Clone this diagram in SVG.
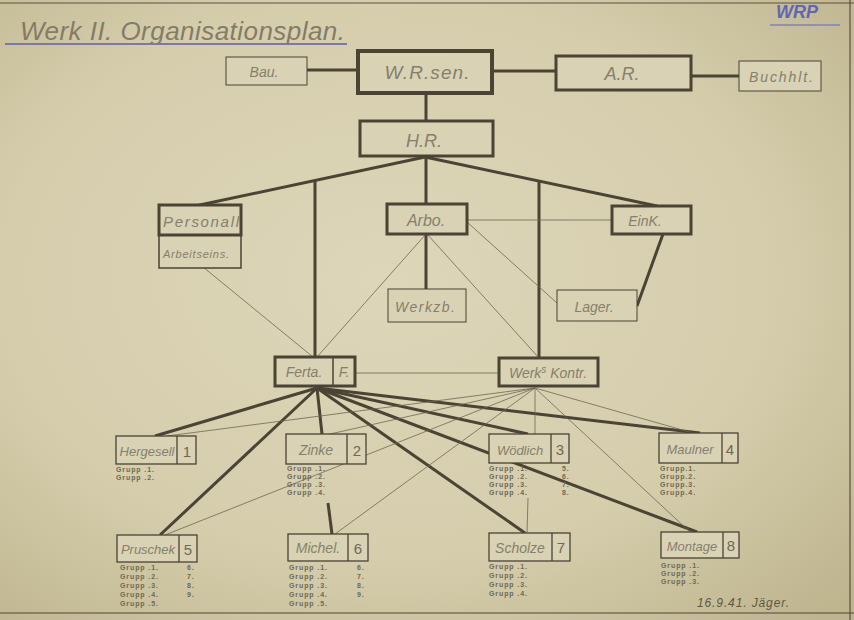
<svg xmlns="http://www.w3.org/2000/svg" width="854" height="620" viewBox="0 0 854 620">
<defs>
<radialGradient id="paper" cx="0.45" cy="0.45" r="0.75">
<stop offset="0" stop-color="#ddd6b9"/>
<stop offset="0.6" stop-color="#d5cdac"/>
<stop offset="1" stop-color="#beb48e"/>
</radialGradient>
<style>
.t{font-family:"Liberation Sans","DejaVu Sans",sans-serif;font-style:italic;fill:#85806b;text-anchor:middle}
.n{font-family:"Liberation Sans","DejaVu Sans",sans-serif;fill:#6f6955;text-anchor:middle;font-size:15px}
.g{font-family:"Liberation Sans","DejaVu Sans",sans-serif;fill:#6f6955;font-size:7px;font-weight:bold;letter-spacing:0.9px}
.bx{fill:#d9d2b5;stroke:#4b4333}
.k{stroke:#4b4333;stroke-width:3;fill:none}
.th{stroke:#6f6753;stroke-width:0.8;fill:none}
</style>
</defs>
<rect x="0" y="0" width="854" height="620" fill="url(#paper)"/>
<line x1="0" y1="3" x2="854" y2="3" stroke="#5a5240" stroke-width="1"/>
<line x1="850" y1="0" x2="850" y2="620" stroke="#5a5240" stroke-width="1.2"/>
<line x1="0" y1="613" x2="854" y2="613" stroke="#4e4736" stroke-width="1.2"/>

<text x="20" y="40" font-family="Liberation Sans, DejaVu Sans, sans-serif" font-style="italic" font-size="26" fill="#847c66" textLength="325" lengthAdjust="spacing">Werk II. Organisationsplan.</text>
<line x1="5" y1="44" x2="347" y2="44" stroke="#7d78a8" stroke-width="1.8"/>
<text x="776" y="18" font-family="Liberation Sans, DejaVu Sans, sans-serif" font-style="italic" font-weight="bold" font-size="18" fill="#6266b0">WRP</text>
<line x1="770" y1="25" x2="840" y2="25" stroke="#8480b8" stroke-width="1.5"/>

<g id="connectors">
<line class="k" x1="307" y1="70" x2="358" y2="70"/>
<line class="k" x1="492" y1="71" x2="556" y2="71"/>
<line class="k" x1="691" y1="76" x2="739" y2="76"/>
<line class="k" x1="426" y1="93" x2="426" y2="121"/>
<line class="k" x1="425" y1="157" x2="195" y2="206"/>
<line class="k" x1="425" y1="157" x2="657" y2="206"/>
<line class="k" x1="426" y1="157" x2="426" y2="204"/>
<line class="k" x1="315" y1="181" x2="315" y2="357"/>
<line class="k" x1="539" y1="181" x2="539" y2="358"/>
<line class="k" x1="426" y1="234" x2="426" y2="289"/>
<line class="k" x1="663" y1="234" x2="637" y2="306"/>
<line class="th" x1="467" y1="220" x2="612" y2="220"/>
<line class="th" x1="467" y1="222" x2="557" y2="303"/>
<line class="th" x1="426" y1="234" x2="317" y2="357"/>
<line class="th" x1="427" y1="234" x2="539" y2="358"/>
<line class="th" x1="203" y1="267" x2="313" y2="357"/>
<line class="th" x1="355" y1="373" x2="499" y2="373"/>
<line class="k" x1="317" y1="388" x2="155" y2="436"/>
<line class="k" x1="317" y1="388" x2="160" y2="535"/>
<line class="k" x1="317" y1="388" x2="322" y2="434"/>
<line class="k" x1="317" y1="388" x2="528" y2="434"/>
<line class="k" x1="317" y1="388" x2="700" y2="433"/>
<line class="k" x1="317" y1="388" x2="697" y2="532"/>
<line class="k" x1="317" y1="388" x2="525" y2="533"/>
<line class="th" x1="535" y1="388" x2="167" y2="436"/>
<line class="th" x1="535" y1="388" x2="330" y2="434"/>
<line class="th" x1="535" y1="388" x2="165" y2="535"/>
<line class="th" x1="535" y1="388" x2="335" y2="534"/>
<line class="th" x1="535" y1="388" x2="535" y2="434"/>
<line class="th" x1="535" y1="388" x2="693" y2="433"/>
<line class="th" x1="535" y1="388" x2="690" y2="532"/>
<line class="th" x1="528" y1="498" x2="527" y2="533"/>
<line class="k" x1="328" y1="503" x2="332" y2="534"/>
</g>

<g id="bau"><rect class="bx" x="226" y="57" width="81" height="28" stroke-width="1"/><text class="t" x="264" y="77" font-size="14">Bau.</text></g>
<g id="wrsen"><rect class="bx" x="358" y="51" width="134" height="42" stroke-width="4"/><text class="t" x="427" y="79" font-size="19" textLength="85" lengthAdjust="spacing">W.R.sen.</text></g>
<g id="ar"><rect class="bx" x="556" y="56" width="135" height="34" stroke-width="3"/><text class="t" x="622" y="80" font-size="18">A.R.</text></g>
<g id="buchhlt"><rect class="bx" x="739" y="61" width="82" height="30" stroke-width="1"/><text class="t" x="781" y="82" font-size="14" textLength="64" lengthAdjust="spacing">Buchhlt.</text></g>
<g id="hr"><rect class="bx" x="360" y="121" width="133" height="35" stroke-width="3"/><text class="t" x="424" y="147" font-size="18">H.R.</text></g>
<g id="personal"><rect class="bx" x="159" y="235" width="82" height="33" stroke-width="1.5"/><rect class="bx" x="159" y="205" width="82" height="30" stroke-width="3"/><text class="t" x="201" y="227" font-size="15" textLength="76" lengthAdjust="spacing">Personall</text><text class="t" x="196" y="258" font-size="11" textLength="66" lengthAdjust="spacing">Arbeitseins.</text></g>
<g id="arbo"><rect class="bx" x="387" y="204" width="80" height="30" stroke-width="3"/><text class="t" x="426" y="226" font-size="16">Arbo.</text></g>
<g id="eink"><rect class="bx" x="612" y="206" width="79" height="28" stroke-width="3"/><text class="t" x="645" y="226" font-size="14">EinK.</text></g>
<g id="werkzb"><rect class="bx" x="388" y="289" width="78" height="33" stroke-width="1"/><text class="t" x="425" y="312" font-size="14" textLength="60" lengthAdjust="spacing">Werkzb.</text></g>
<g id="lager"><rect class="bx" x="557" y="290" width="80" height="31" stroke-width="1"/><text class="t" x="594" y="312" font-size="14">Lager.</text></g>
<g id="ferta"><rect class="bx" x="275" y="357" width="80" height="29" stroke-width="3"/><line x1="333" y1="358" x2="333" y2="385" stroke="#4b4333" stroke-width="1.5"/><text class="t" x="304" y="377" font-size="14">Ferta.</text><text class="t" x="344" y="377" font-size="14">F.</text></g>
<g id="werkskontr"><rect class="bx" x="499" y="358" width="99" height="28" stroke-width="3"/><text class="t" x="548" y="378" font-size="14">Werk<tspan font-size="10" dy="-5">s</tspan><tspan dy="5"> Kontr.</tspan></text></g>

<g id="hergesell"><rect class="bx" x="116" y="436" width="80" height="28" stroke-width="1.3"/><line x1="177" y1="436" x2="177" y2="464" stroke="#4b4333" stroke-width="1.3"/><text class="t" x="147" y="456" font-size="13">Hergesell</text><text class="n" x="187" y="457">1</text><text class="g" x="116" y="472">Grupp .1.</text><text class="g" x="116" y="480">Grupp .2.</text></g>
<g id="zinke"><rect class="bx" x="286" y="434" width="80" height="30" stroke-width="1.3"/><line x1="347" y1="434" x2="347" y2="464" stroke="#4b4333" stroke-width="1.3"/><text class="t" x="316" y="455" font-size="14">Zinke</text><text class="n" x="357" y="456">2</text><text class="g" x="287" y="471">Grupp  .1.</text><text class="g" x="287" y="479">Grupp  .2.</text><text class="g" x="287" y="487">Grupp  .3.</text><text class="g" x="287" y="495">Grupp  .4.</text></g>
<g id="woedlich"><rect class="bx" x="489" y="434" width="80" height="29" stroke-width="1.3"/><line x1="551" y1="434" x2="551" y2="463" stroke="#4b4333" stroke-width="1.3"/><text class="t" x="520" y="455" font-size="13">Wödlich</text><text class="n" x="560" y="455">3</text><text class="g" x="489" y="471">Grupp  .1.</text><text class="g" x="489" y="479">Grupp  .2.</text><text class="g" x="489" y="487">Grupp  .3.</text><text class="g" x="489" y="495">Grupp  .4.</text><text class="g" x="562" y="471">5.</text><text class="g" x="562" y="479">6.</text><text class="g" x="562" y="487">7.</text><text class="g" x="562" y="495">8.</text></g>
<g id="maulner"><rect class="bx" x="659" y="433" width="79" height="30" stroke-width="1.3"/><line x1="722" y1="433" x2="722" y2="463" stroke="#4b4333" stroke-width="1.3"/><text class="t" x="690" y="454" font-size="13">Maulner</text><text class="n" x="730" y="455">4</text><text class="g" x="660" y="471">Grupp.1.</text><text class="g" x="660" y="479">Grupp.2.</text><text class="g" x="660" y="487">Grupp.3.</text><text class="g" x="660" y="495">Grupp.4.</text></g>
<g id="pruschek"><rect class="bx" x="117" y="535" width="80" height="27" stroke-width="1.3"/><line x1="179" y1="535" x2="179" y2="562" stroke="#4b4333" stroke-width="1.3"/><text class="t" x="148" y="554" font-size="13">Pruschek</text><text class="n" x="188" y="555">5</text><text class="g" x="120" y="570">Grupp .1.</text><text class="g" x="120" y="579">Grupp .2.</text><text class="g" x="120" y="588">Grupp .3.</text><text class="g" x="120" y="597">Grupp .4.</text><text class="g" x="120" y="606">Grupp .5.</text><text class="g" x="187" y="570">6.</text><text class="g" x="187" y="579">7.</text><text class="g" x="187" y="588">8.</text><text class="g" x="187" y="597">9.</text></g>
<g id="michel"><rect class="bx" x="288" y="534" width="80" height="27" stroke-width="1.3"/><line x1="348" y1="534" x2="348" y2="561" stroke="#4b4333" stroke-width="1.3"/><text class="t" x="318" y="553" font-size="14">Michel.</text><text class="n" x="358" y="554">6</text><text class="g" x="289" y="570">Grupp .1.</text><text class="g" x="289" y="579">Grupp .2.</text><text class="g" x="289" y="588">Grupp .3.</text><text class="g" x="289" y="597">Grupp .4.</text><text class="g" x="289" y="606">Grupp .5.</text><text class="g" x="357" y="570">6.</text><text class="g" x="357" y="579">7.</text><text class="g" x="357" y="588">8.</text><text class="g" x="357" y="597">9.</text></g>
<g id="scholze"><rect class="bx" x="489" y="533" width="81" height="28" stroke-width="1.3"/><line x1="552" y1="533" x2="552" y2="561" stroke="#4b4333" stroke-width="1.3"/><text class="t" x="520" y="553" font-size="14">Scholze</text><text class="n" x="561" y="553">7</text><text class="g" x="489" y="569">Grupp .1.</text><text class="g" x="489" y="578">Grupp .2.</text><text class="g" x="489" y="587">Grupp .3.</text><text class="g" x="489" y="596">Grupp .4.</text></g>
<g id="montage"><rect class="bx" x="661" y="532" width="78" height="26" stroke-width="1.3"/><line x1="723" y1="532" x2="723" y2="558" stroke="#4b4333" stroke-width="1.3"/><text class="t" x="692" y="551" font-size="13">Montage</text><text class="n" x="731" y="551">8</text><text class="g" x="661" y="568">Grupp .1.</text><text class="g" x="661" y="576">Grupp .2.</text><text class="g" x="661" y="584">Grupp .3.</text></g>

<text x="697" y="607" font-family="Liberation Sans, DejaVu Sans, sans-serif" font-style="italic" font-size="12" fill="#5e5744" textLength="92" lengthAdjust="spacing">16.9.41. Jäger.</text>
</svg>
